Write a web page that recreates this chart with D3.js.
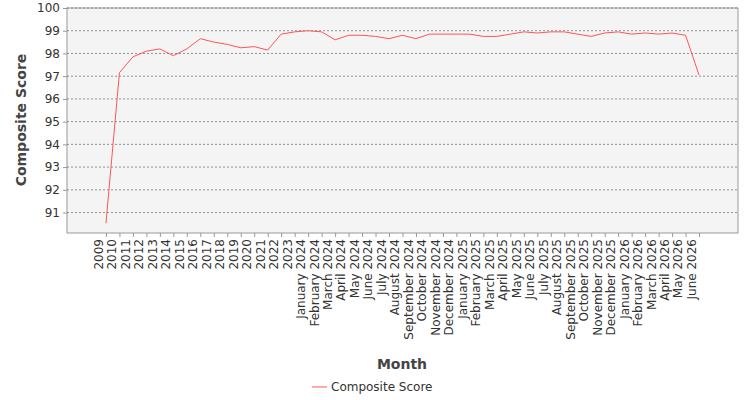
<!DOCTYPE html>
<html><head><meta charset="utf-8">
<script src="https://cdn.jsdelivr.net/npm/d3@7"></script>
<style>body{margin:0;background:#fff}svg{font-family:"DejaVu Sans",sans-serif}</style>
</head><body><svg id="c" width="750" height="400"></svg>
<script>
const years = d3.range(2009, 2024).map(String);
const monthNames = ["January","February","March","April","May","June","July","August","September","October","November","December"];
const months = [];
for (let y = 2024; y <= 2026; y++) monthNames.forEach((m, i) => { if (y < 2026 || i < 6) months.push(m + " " + y); });
const categories = years.concat(months);
const scores = [90.53,97.15,97.85,98.1,98.2,97.9,98.2,98.65,98.5,98.4,98.25,98.3,98.15,98.85,98.95,
  99.0,98.95,98.6,98.8,98.8,98.75,98.65,98.8,98.65,98.85,98.85,98.85,
  98.85,98.75,98.75,98.85,98.95,98.9,98.95,98.95,98.85,98.75,98.9,98.95,
  98.85,98.9,98.85,98.9,98.8,97.05];
const yTicks = [91,92,93,94,95,96,97,98,99,100];

const svg = d3.select("#c");
const L = 67, R = 738, T = 8, B = 233;
const x = d3.scalePoint().domain(categories).range([L, R]).padding(2.89);
const y = d3.scaleLinear().domain([90.1, 100]).range([B, T]);

svg.append("rect").attr("x", L).attr("y", T).attr("width", R - L).attr("height", B - T)
  .attr("fill", "#f4f4f4").attr("stroke", "#999");

svg.append("g").selectAll("line").data(yTicks).join("line")
  .attr("x1", L).attr("x2", R).attr("y1", d => y(d)).attr("y2", d => y(d))
  .attr("stroke", "#777").attr("stroke-dasharray", "2,2").attr("stroke-width", 0.8);

svg.append("g").attr("transform", `translate(${L},0)`)
  .call(d3.axisLeft(y).tickValues(yTicks).tickSize(4).tickFormat(d3.format("d")))
  .call(g => g.select(".domain").remove())
  .call(g => g.selectAll("line").attr("stroke", "#999"))
  .call(g => g.selectAll("text").attr("font-size", 12).attr("fill", "#333").attr("font-family", "DejaVu Sans"));

const xa = svg.append("g").attr("transform", `translate(0,${B})`)
  .call(d3.axisBottom(x).tickSize(4))
  .call(g => g.select(".domain").remove())
  .call(g => g.selectAll("line").attr("stroke", "#999"));
xa.selectAll("text").attr("font-size", 12).attr("fill", "#333").attr("font-family", "DejaVu Sans")
  .attr("transform", "rotate(-90)").attr("text-anchor", "end").attr("dx", "-6").attr("dy", "-0.3em").attr("y", 0);

svg.append("path").datum(scores)
  .attr("fill", "none").attr("stroke", "#ff5555").attr("stroke-width", 1)
  .attr("d", d3.line().x((d, i) => x(categories[i])).y(d => y(d)));

svg.append("text").attr("x", 402).attr("y", 369).attr("text-anchor", "middle")
  .attr("font-size", 14).attr("font-weight", "bold").attr("fill", "#444").text("Month");
svg.append("text").attr("transform", "translate(26,120) rotate(-90)").attr("text-anchor", "middle")
  .attr("font-size", 14).attr("font-weight", "bold").attr("fill", "#444").text("Composite Score");

svg.append("line").attr("x1", 312).attr("x2", 327).attr("y1", 387).attr("y2", 387).attr("stroke", "#ff5555");
svg.append("text").attr("x", 331).attr("y", 391).attr("font-size", 12).attr("fill", "#333").text("Composite Score");
</script></body></html>
